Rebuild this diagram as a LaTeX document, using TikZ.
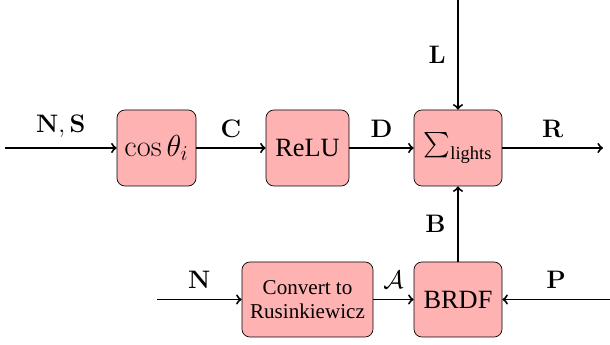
\documentclass[tikz,border=0pt]{standalone}
\usepackage{amsmath}
\usepackage[no-math]{fontspec}
\setmainfont{Liberation Serif}
\usetikzlibrary{positioning}

\begin{document}
\begin{tikzpicture}[
    block/.style={
        draw,
        rounded corners=4.5pt,
        fill=red!30,
        align=center,
        font=\fontsize{15}{18}\selectfont,
        minimum height=1.52cm
    },
    arrow/.style={->, line width=1.1pt},
    lbl/.style={above=0.8mm, font=\fontsize{14.4}{17}\selectfont}
]
\useasboundingbox (0,0) rectangle (12.2,6.9);

% TOP ROW
\node[block, font=\LARGE, minimum width=1.58cm] (cos) at (3.13,3.94)
{{\fontfamily{lmr}\selectfont cos}\,$\theta_i$};

\node[block, minimum width=1.66cm] (relu) at (6.15,3.94)
{ReLU};

\node[block, minimum width=1.76cm] (sum) at (9.16,3.94)
{$\sum_{\text{lights}}$};

% BOTTOM ROW
\node[block, font=\large, minimum width=2.62cm, minimum height=1.5cm] (conv) at (6.15,0.91)
{Convert to\\Rusinkiewicz};

\node[block, minimum width=1.76cm, minimum height=1.5cm] (brdf) at (9.16,0.91)
{BRDF};

% FREE ENDS
\coordinate (ns) at (0.1,3.94);
\coordinate (r) at (12.06,3.94);
\coordinate (l) at (9.16,6.9);
\coordinate (n) at (3.14,0.91);
\coordinate (p) at (12.2,0.91);

\draw[arrow] (ns) -- node[lbl] {$\mathbf{N}, \mathbf{S}$} (cos);
\draw[arrow] (cos) -- node[lbl] {$\mathbf{C}$} (relu);
\draw[arrow] (relu) -- node[lbl] {$\mathbf{D}$} (sum);
\draw[arrow] (sum) -- node[lbl] {$\mathbf{R}$} (r);
\draw[arrow] (l) -- node[lbl, left=1.1mm] {$\mathbf{L}$} (sum);
\draw[arrow] (brdf) -- node[lbl, left=1.1mm] {$\mathbf{B}$} (sum);

\draw[arrow] (n) -- node[lbl] {$\mathbf{N}$} (conv);
\draw[arrow] (conv) -- node[lbl] {$\mathcal{A}$} (brdf);
\draw[arrow] (p) -- node[lbl] {$\mathbf{P}$} (brdf);

\end{tikzpicture}
\end{document}
